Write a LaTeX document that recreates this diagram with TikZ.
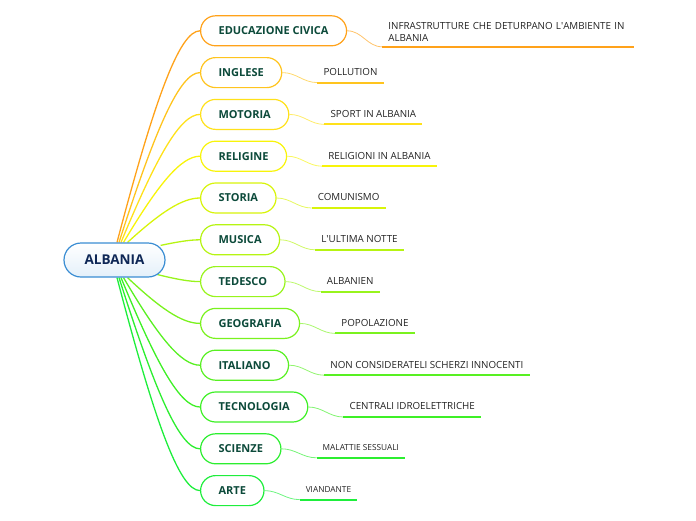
\documentclass[tikz,border=0pt]{standalone}
\usepackage{fontspec}
\setmainfont{Open Sans}
\usetikzlibrary{backgrounds,calc,positioning}
\definecolor{Sky}{HTML}{3A8DD3}
\definecolor{Frost}{HTML}{E4F0FA}
\definecolor{Navy}{HTML}{0E2756}
\definecolor{Pine}{HTML}{0C4A3A}
\definecolor{Charcoal}{HTML}{222222}
\definecolor{Tangerine}{HTML}{FFA21A}
\definecolor{Amber}{HTML}{FFC41E}
\definecolor{Gold}{HTML}{FFE11A}
\definecolor{Lemon}{HTML}{F8F40A}
\definecolor{Chartreuse}{HTML}{D8F40A}
\definecolor{Lime}{HTML}{B6F412}
\definecolor{Spring}{HTML}{98F41C}
\definecolor{Grass}{HTML}{7AF21E}
\definecolor{Meadow}{HTML}{58F022}
\definecolor{Leaf}{HTML}{3EF026}
\definecolor{Jade}{HTML}{2CEE30}
\definecolor{Emerald}{HTML}{1EEE3C}
\tikzset{
  hub/.style={
    rounded corners=17pt, draw=Sky, line width=1.2pt, top color=white,
    bottom color=Frost, minimum width=101pt, minimum height=34pt,
    text=Navy, font=\fontsize{13.5}{16}\selectfont\bfseries
  },
  topic/.style={
    rounded corners=15pt, line width=1.2pt, fill=white, minimum height=30pt,
    inner xsep=18pt, text=Pine, font=\fontsize{11}{13}\selectfont\bfseries
  },
  note/.style={
    anchor=south west, inner xsep=6pt, inner ysep=7pt, text depth=0pt,
    text=Charcoal, font=\fontsize{9.8}{12.6}\selectfont
  },
  smallnote/.style={note, font=\fontsize{8.3}{10}\selectfont},
  limb/.style={
    line width=1.3pt,
    to path={let \p1=(\tikztostart), \p2=(\tikztotarget) in
      .. controls ($(\p1)+({0.45*(\x2-\x1)},{0.67*(\y2-\y1)})$)
      and ($(\p2)+({-0.25*(\x2-\x1)},0)$) .. (\tikztotarget)}
  },
  twig/.style={line width=0.8pt, out=0, in=180},
  rule/.style={line width=2pt}
}
\begin{document}
\begin{tikzpicture}[x=1pt,y=1pt]
  \useasboundingbox (0,0) rectangle (696,-520);
  % centre
  \node[hub] (albania) at (114.5,-260) {ALBANIA};
  % subjects
  \node[topic,draw=Tangerine,anchor=west] (educazione) at (200,-30.8) {EDUCAZIONE CIVICA};
  \node[topic,draw=Amber,below=10.6pt of educazione.south west,anchor=north west] (inglese) {INGLESE};
  \node[topic,draw=Gold,below=10.6pt of inglese.south west,anchor=north west] (motoria) {MOTORIA};
  \node[topic,draw=Lemon,below=10.6pt of motoria.south west,anchor=north west] (religine) {RELIGINE};
  \node[topic,draw=Chartreuse,below=10.6pt of religine.south west,anchor=north west] (storia) {STORIA};
  \node[topic,draw=Lime,below=10.6pt of storia.south west,anchor=north west] (musica) {MUSICA};
  \node[topic,draw=Spring,below=10.6pt of musica.south west,anchor=north west] (tedesco) {TEDESCO};
  \node[topic,draw=Grass,below=10.6pt of tedesco.south west,anchor=north west] (geografia) {GEOGRAFIA};
  \node[topic,draw=Meadow,below=10.6pt of geografia.south west,anchor=north west] (italiano) {ITALIANO};
  \node[topic,draw=Leaf,below=10.6pt of italiano.south west,anchor=north west] (tecnologia) {TECNOLOGIA};
  \node[topic,draw=Jade,below=10.6pt of tecnologia.south west,anchor=north west] (scienze) {SCIENZE};
  \node[topic,draw=Emerald,below=10.6pt of scienze.south west,anchor=north west] (arte) {ARTE};
  % topics
  \node[note,text depth={},inner ysep=5pt,text width=239pt,align=left] (infrastrutture) at ([xshift=35pt,yshift=-16pt]educazione.east) {INFRASTRUTTURE CHE DETURPANO L\textquotesingle AMBIENTE IN\\ALBANIA};
  \node[note] (pollution) at ([xshift=35pt,yshift=-10pt]inglese.east) {POLLUTION};
  \node[note] (sport) at ([xshift=35pt,yshift=-10pt]motoria.east) {SPORT IN ALBANIA};
  \node[note] (religioni) at ([xshift=35pt,yshift=-10pt]religine.east) {RELIGIONI IN ALBANIA};
  \node[note] (comunismo) at ([xshift=35pt,yshift=-10pt]storia.east) {COMUNISMO};
  \node[note] (notte) at ([xshift=35pt,yshift=-10pt]musica.east) {L\textquotesingle ULTIMA NOTTE};
  \node[note] (albanien) at ([xshift=35pt,yshift=-10pt]tedesco.east) {ALBANIEN};
  \node[note] (popolazione) at ([xshift=35pt,yshift=-10pt]geografia.east) {POPOLAZIONE};
  \node[note] (scherzi) at ([xshift=35pt,yshift=-10pt]italiano.east) {NON CONSIDERATELI SCHERZI INNOCENTI};
  \node[note] (centrali) at ([xshift=35pt,yshift=-10pt]tecnologia.east) {CENTRALI IDROELETTRICHE};
  \node[smallnote] (malattie) at ([xshift=35pt,yshift=-9pt]scienze.east) {MALATTIE SESSUALI};
  \node[smallnote] (viandante) at ([xshift=35pt,yshift=-9pt]arte.east) {VIANDANTE};
  % where the limbs leave the centre
  \coordinate (r1) at ([xshift=2.5pt]albania.north);
  \coordinate (r2) at ([xshift=4.5pt]albania.north);
  \coordinate (r3) at ([xshift=6.5pt]albania.north);
  \coordinate (r4) at ([xshift=9pt]albania.north);
  \coordinate (r5) at ([xshift=13pt]albania.north);
  \coordinate (r6) at ([shift={(-5pt,-3pt)}]albania.north east);
  \coordinate (r7) at ([shift={(-8pt,3pt)}]albania.south east);
  \coordinate (r8) at ([xshift=13pt]albania.south);
  \coordinate (r9) at ([xshift=9pt]albania.south);
  \coordinate (r10) at ([xshift=6.5pt]albania.south);
  \coordinate (r11) at ([xshift=4.5pt]albania.south);
  \coordinate (r12) at ([xshift=2.5pt]albania.south);
  \begin{scope}[on background layer]
    \draw[limb,Tangerine] (r1) to (educazione.west);
    \draw[limb,Amber] (r2) to (inglese.west);
    \draw[limb,Gold] (r3) to (motoria.west);
    \draw[limb,Lemon] (r4) to (religine.west);
    \draw[limb,Chartreuse] (r5) to (storia.west);
    \draw[limb,Lime] (r6) to (musica.west);
    \draw[limb,Spring] (r7) to (tedesco.west);
    \draw[limb,Grass] (r8) to (geografia.west);
    \draw[limb,Meadow] (r9) to (italiano.west);
    \draw[limb,Leaf] (r10) to (tecnologia.west);
    \draw[limb,Jade] (r11) to (scienze.west);
    \draw[limb,Emerald] (r12) to (arte.west);
  \end{scope}
  \draw[twig,Tangerine!65] (educazione.east) to (infrastrutture.south west);
  \draw[twig,Amber!65] (inglese.east) to (pollution.south west);
  \draw[twig,Gold!65] (motoria.east) to (sport.south west);
  \draw[twig,Lemon!65] (religine.east) to (religioni.south west);
  \draw[twig,Chartreuse!65] (storia.east) to (comunismo.south west);
  \draw[twig,Lime!65] (musica.east) to (notte.south west);
  \draw[twig,Spring!65] (tedesco.east) to (albanien.south west);
  \draw[twig,Grass!65] (geografia.east) to (popolazione.south west);
  \draw[twig,Meadow!65] (italiano.east) to (scherzi.south west);
  \draw[twig,Leaf!65] (tecnologia.east) to (centrali.south west);
  \draw[twig,Jade!65] (scienze.east) to (malattie.south west);
  \draw[twig,Emerald!65] (arte.east) to (viandante.south west);
  % underlines
  \draw[rule,Tangerine] (infrastrutture.south west) -- (infrastrutture.south east);
  \draw[rule,Amber] (pollution.south west) -- (pollution.south east);
  \draw[rule,Gold] (sport.south west) -- (sport.south east);
  \draw[rule,Lemon] (religioni.south west) -- (religioni.south east);
  \draw[rule,Chartreuse] (comunismo.south west) -- (comunismo.south east);
  \draw[rule,Lime] (notte.south west) -- (notte.south east);
  \draw[rule,Spring] (albanien.south west) -- (albanien.south east);
  \draw[rule,Grass] (popolazione.south west) -- (popolazione.south east);
  \draw[rule,Meadow] (scherzi.south west) -- (scherzi.south east);
  \draw[rule,Leaf] (centrali.south west) -- (centrali.south east);
  \draw[rule,Jade] (malattie.south west) -- (malattie.south east);
  \draw[rule,Emerald] (viandante.south west) -- (viandante.south east);
\end{tikzpicture}
\end{document}
